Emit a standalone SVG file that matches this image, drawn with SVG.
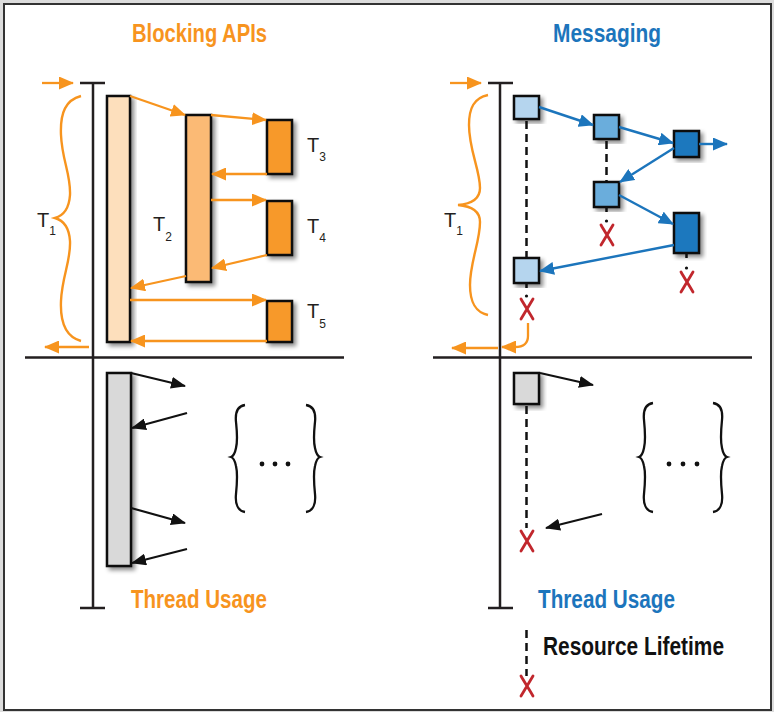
<svg xmlns="http://www.w3.org/2000/svg" width="774" height="712" viewBox="0 0 774 712">
  <style>
    .axis { stroke: #231F20; stroke-width: 2.5; fill: none; }
    .box { stroke: #111; stroke-width: 2.5; filter: url(#shadow); }
    .co { stroke: #F7941E; stroke-width: 2.3; fill: none; marker-end: url(#ao); }
    .cb { stroke: #1C75BC; stroke-width: 2.4; fill: none; marker-end: url(#ab); }
    .ck { stroke: #111; stroke-width: 2.2; fill: none; marker-end: url(#ak); }
    .brace-o { stroke: #F7941E; stroke-width: 2.4; fill: none; }
    .brace-k { stroke: #111; stroke-width: 2.3; fill: none; }
    .dash { stroke: #111; stroke-width: 2.5; stroke-dasharray: 8 5; fill: none; }
    .stub { stroke: #111; stroke-width: 2.5; fill: none; }
    .xmark { stroke: #C1272D; stroke-width: 2.8; fill: none; stroke-linecap: round; }
    .title { font-family: "Liberation Sans", Arial, sans-serif; font-weight: bold; font-size: 25px; }
    .tl { font-family: "Liberation Sans", Arial, sans-serif; font-size: 20px; fill: #231F20; }
    .sub { font-size: 12px; }
  </style>
  <defs>
    <filter id="shadow" x="-30%" y="-10%" width="160%" height="130%">
      <feDropShadow dx="3" dy="3" stdDeviation="2" flood-color="#000" flood-opacity="0.45"/>
    </filter>
    <marker id="ao" markerUnits="userSpaceOnUse" markerWidth="15" markerHeight="13" refX="14" refY="6.5" orient="auto">
      <path d="M0,0 L15,6.5 L0,13 z" fill="#F7941E"/>
    </marker>
    <marker id="ab" markerUnits="userSpaceOnUse" markerWidth="15" markerHeight="13" refX="14" refY="6.5" orient="auto">
      <path d="M0,0 L15,6.5 L0,13 z" fill="#1C75BC"/>
    </marker>
    <marker id="ak" markerUnits="userSpaceOnUse" markerWidth="15" markerHeight="12" refX="14" refY="6" orient="auto">
      <path d="M0,0 L15,6 L0,12 z" fill="#111"/>
    </marker>
    <path id="x" class="xmark" d="M-6,-10 C-2,-3 2,3 6,10 M6,-10 L-6,10"/>
  </defs>

  <!-- frame -->
  <rect x="0" y="0" width="774" height="712" fill="#dcdcdc"/>
  <rect x="4" y="4" width="767" height="706" fill="#fff" stroke="#333" stroke-width="2"/>

  <!-- titles -->
  <text class="title" x="132" y="42" fill="#F7941E" textLength="135" lengthAdjust="spacingAndGlyphs">Blocking APIs</text>
  <text class="title" x="553" y="42" fill="#1C75BC" textLength="108" lengthAdjust="spacingAndGlyphs">Messaging</text>

  <!-- timelines -->
  <g id="axes">
    <path class="axis" d="M93,83 L93,608 M80,83 L105,83 M80,608 L105,608"/>
    <path class="axis" d="M500,83 L500,608 M488,83 L513,83 M488,608 L513,608"/>
    <path class="axis" d="M25,357.5 L344,357.5 M433,357.5 L752,357.5"/>
  </g>

  <!-- T1 duration braces -->
  <g id="brace-left">
    <path class="brace-o" d="M81,96 C66,100 60,112 61,135 C62,160 71,175 70,195 C69,210 62,216 55,218 C62,220 69,226 70,241 C71,261 62,276 61,301 C60,324 66,337 81,341"/>
    <text class="tl" x="37" y="227">T<tspan class="sub" dy="8">1</tspan></text>
  </g>
  <g id="brace-right">
    <path class="brace-o" d="M488,95 C474,98 469,108 469,125 C469,150 480,170 480,188 C480,200 470,204 458,205 C470,206 480,210 480,222 C480,242 470,262 470,285 C470,302 475,312 488,315"/>
    <text class="tl" x="444" y="227">T<tspan class="sub" dy="8">1</tspan></text>
  </g>

  <!-- blocking threads -->
  <g id="t1"><rect class="box" x="107" y="96" width="23" height="246" fill="#FDDFBC"/></g>
  <g id="t2">
    <rect class="box" x="186" y="115" width="25" height="167" fill="#FBBA75"/>
    <text class="tl" x="153" y="231">T<tspan class="sub" dy="10">2</tspan></text>
  </g>
  <g id="t3">
    <rect class="box" x="267" y="120" width="25" height="54" fill="#F7992C"/>
    <text class="tl" x="307" y="152">T<tspan class="sub" dy="9">3</tspan></text>
  </g>
  <g id="t4">
    <rect class="box" x="267" y="201" width="25" height="54" fill="#F7992C"/>
    <text class="tl" x="307" y="233">T<tspan class="sub" dy="9">4</tspan></text>
  </g>
  <g id="t5">
    <rect class="box" x="267" y="301" width="25" height="41" fill="#F7992C"/>
    <text class="tl" x="307" y="318">T<tspan class="sub" dy="10">5</tspan></text>
  </g>

  <!-- actors -->
  <g id="m-a"><rect class="box" x="514" y="96" width="25" height="23" fill="#B5D5EE"/></g>
  <g id="m-b"><rect class="box" x="594" y="115" width="25" height="24" fill="#6AADDC"/></g>
  <g id="m-c"><rect class="box" x="674" y="131" width="25" height="26" fill="#1F78BE"/></g>
  <g id="m-d"><rect class="box" x="594" y="182" width="25" height="25" fill="#6AADDC"/></g>
  <g id="m-e"><rect class="box" x="674" y="213" width="25" height="40" fill="#1F78BE"/></g>
  <g id="m-f"><rect class="box" x="514" y="258" width="25" height="25" fill="#B5D5EE"/></g>

  <!-- thread usage -->
  <g id="usage-blocking">
    <rect class="box" x="107" y="373" width="24" height="193" fill="#D9D9D9"/>
  </g>
  <g id="usage-messaging">
    <rect class="box" x="514" y="373" width="25" height="31" fill="#D9D9D9"/>
  </g>
  <g id="ellipsis-left">
    <path class="brace-k" d="M245,405 C238,406 235,412 236,422 C237,432 238,440 236,448 C235,453 234,456 231,457 C234,458 235,461 236,466 C238,474 237,484 236,494 C235,504 238,511 245,512"/>
    <path class="brace-k" d="M306,405 C313,406 316,412 315,422 C314,432 313,440 315,448 C316,453 317,456 320,457 C317,458 316,461 315,466 C313,474 314,484 315,494 C316,504 313,511 306,512"/>
    <circle cx="262" cy="464" r="2.4" fill="#111"/>
    <circle cx="275" cy="464" r="2.4" fill="#111"/>
    <circle cx="288" cy="464" r="2.4" fill="#111"/>
  </g>
  <g id="ellipsis-right">
    <path class="brace-k" d="M653,403 C646,404 643,410 644,420 C645,430 646,440 644,448 C643,453 642,456 639,457 C642,458 643,461 644,466 C646,474 645,484 644,494 C643,504 646,511 653,512"/>
    <path class="brace-k" d="M713,403 C720,404 723,410 722,420 C721,430 720,440 722,448 C723,453 724,456 727,457 C724,458 723,461 722,466 C720,474 721,484 722,494 C723,504 720,511 713,512"/>
    <circle cx="669" cy="464" r="2.4" fill="#111"/>
    <circle cx="683" cy="464" r="2.4" fill="#111"/>
    <circle cx="697" cy="464" r="2.4" fill="#111"/>
  </g>

  <!-- lifetimes -->
  <g id="lifetimes">
    <path class="dash" d="M526.5,121 L526.5,257"/>
    <path class="dash" d="M606.5,141 L606.5,181"/>
    <path class="stub" d="M606.5,207 L606.5,212 M686.5,253 L686.5,258 M526.5,283 L526.5,288"/>
    <circle cx="606.5" cy="221" r="1.6" fill="#111"/>
    <circle cx="686.5" cy="268" r="1.6" fill="#111"/>
    <circle cx="526.5" cy="296" r="1.6" fill="#111"/>
    <path class="dash" d="M526.5,406 L526.5,528"/>
    <use href="#x" x="607" y="235"/>
    <use href="#x" x="687" y="282"/>
    <use href="#x" x="527" y="309"/>
    <use href="#x" x="527" y="541"/>
  </g>

  <!-- connectors -->
  <g id="connectors">
    <path class="co" d="M42,83 L73,83"/>
    <path class="co" d="M89,347 L45,347"/>
    <path class="co" d="M130,96 L185,115"/>
    <path class="co" d="M211,115 L266,120"/>
    <path class="co" d="M267,174 L212,174"/>
    <path class="co" d="M211,200 L266,200"/>
    <path class="co" d="M267,255 L212,268"/>
    <path class="co" d="M186,276 L131,288"/>
    <path class="co" d="M130,300 L266,300"/>
    <path class="co" d="M267,341 L131,341"/>
    <path class="co" d="M450,83 L481,83"/>
    <path class="co" d="M498,348 L452,348"/>
    <path class="co" d="M528,323 L528,336 Q528,347 515,347 L502,347"/>

    <path class="cb" d="M539,107 L593,125"/>
    <path class="cb" d="M619,127 L673,143"/>
    <path class="cb" d="M699,144 L727,144"/>
    <path class="cb" d="M674,148 L620,182"/>
    <path class="cb" d="M619,195 L673,224"/>
    <path class="cb" d="M674,245 L540,271"/>

    <path class="ck" d="M131,373 L185,386"/>
    <path class="ck" d="M187,413 L132,428"/>
    <path class="ck" d="M131,508 L185,523"/>
    <path class="ck" d="M187,549 L132,563"/>
    <path class="ck" d="M540,373 L593,385"/>
    <path class="ck" d="M602,514 L546,528"/>
  </g>

  <!-- captions -->
  <text class="title" x="131" y="608" fill="#F7941E" textLength="136" lengthAdjust="spacingAndGlyphs">Thread Usage</text>
  <text class="title" x="538" y="608" fill="#1C75BC" textLength="137" lengthAdjust="spacingAndGlyphs">Thread Usage</text>

  <!-- legend -->
  <g id="legend">
    <path class="dash" d="M526.5,630 L526.5,676"/>
    <use href="#x" x="527" y="686"/>
    <text class="title" x="543" y="655" fill="#111" textLength="181" lengthAdjust="spacingAndGlyphs">Resource Lifetime</text>
  </g>
</svg>
